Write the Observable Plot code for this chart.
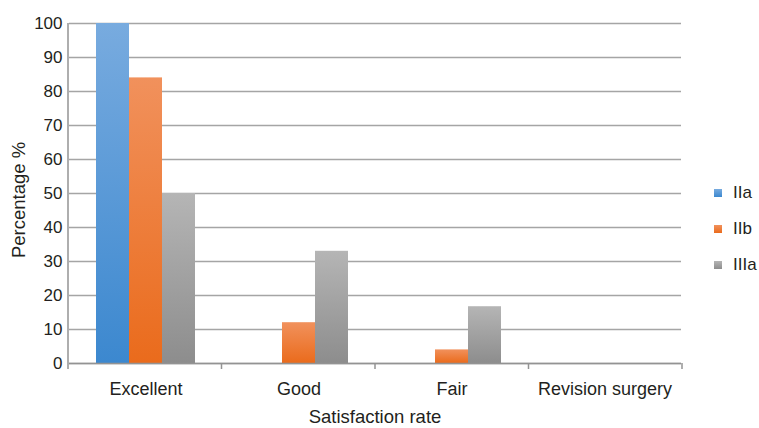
<!DOCTYPE html>
<html>
<head>
<meta charset="utf-8">
<script src="https://cdn.jsdelivr.net/npm/d3@7"></script>
<script src="https://cdn.jsdelivr.net/npm/@observablehq/plot@0.6"></script>
<style>
  body { margin: 0; background: #fff; font-family: "Liberation Sans", Arial, sans-serif; color: #231f20; }
  #wrap { position: relative; width: 759px; height: 428px; }
  #legend { position: absolute; left: 714px; top: 175px; }
  .row { display: flex; align-items: center; height: 36px; font-size: 17px; }
  .sw { width: 8px; height: 8px; margin-right: 11px; }
</style>
</head>
<body>
<div id="wrap"></div>
<script>
// Satisfaction rate by fracture type
const categories = ["Excellent", "Good", "Fair", "Revision surgery"];
const series = ["IIa", "IIb", "IIIa"];
const valuesIIa = [100, 0, 0, 0];
const valuesIIb = [84, 12, 4, 0];
const valuesIIIa = [50, 33, 16.7, 0];
const yTicks = [0, 10, 20, 30, 40, 50, 60, 70, 80, 90, 100];
const xTitle = "Satisfaction rate";
const yTitle = "Percentage %";

// top / bottom shades of each series' gradient
const seriesShades = {
  IIa: ["#78abdf", "#3c88cf"],
  IIb: ["#f1915c", "#ea6b1c"],
  IIIa: ["#b5b5b5", "#8d8d8d"]
};

const seriesValues = [valuesIIa, valuesIIb, valuesIIIa];
const rows = categories.flatMap((category, i) =>
  series.map((s, j) => ({category, series: s, value: seriesValues[j][i]}))
);

const ink = "#231f20";
const axisGray = "#939393";
const W = 759, H = 428;

const chart = Plot.plot({
  width: W,
  height: H,
  marginLeft: 68,
  marginRight: 77,
  marginTop: 23,
  marginBottom: 65,
  style: {fontFamily: '"Liberation Sans", Arial, sans-serif', color: ink, background: "white"},
  fx: {domain: categories, padding: 0, label: null},
  x: {domain: series, paddingInner: 0, paddingOuter: 0.78, axis: null},
  y: {domain: [0, 100]},
  color: {domain: series, range: series.map(s => `url(#grad-${s})`)},
  marks: [
    Plot.gridY(yTicks, {stroke: "#a5a5a5", strokeOpacity: 1, strokeWidth: 1.3}),
    Plot.barY(rows, {fx: "category", x: "series", y: "value", fill: "series"}),
    Plot.ruleY([0], {stroke: axisGray, strokeWidth: 1.5}),
    Plot.axisY(yTicks, {tickSize: 0, tickPadding: 7, fontSize: 17, fill: ink, label: null}),
    Plot.axisFx({anchor: "bottom", tickSize: 0, tickPadding: 19, fontSize: 18, fill: ink, label: null})
  ]
});

document.getElementById("wrap").append(chart);

const svg = d3.select(chart);

// vertical gradients for the bars
const defs = svg.insert("defs", ":first-child");
for (const s of series) {
  const g = defs.append("linearGradient")
    .attr("id", `grad-${s}`)
    .attr("x1", 0).attr("y1", 0).attr("x2", 0).attr("y2", 1);
  g.append("stop").attr("offset", "0%").attr("stop-color", seriesShades[s][0]);
  g.append("stop").attr("offset", "100%").attr("stop-color", seriesShades[s][1]);
}

// left axis line and category boundary ticks
const yDesc = chart.scale("y");
const fxDesc = chart.scale("fx");
const yScale = d3.scaleLinear(yDesc.domain, yDesc.range);
const fxScale = d3.scaleBand(fxDesc.domain, fxDesc.range).padding(0);
const edges = [...categories.map(c => fxScale(c)), fxScale(categories[categories.length - 1]) + fxScale.bandwidth()];
const deco = svg.append("g").attr("stroke", axisGray).attr("stroke-width", 1.5);
deco.append("line")
  .attr("x1", edges[0]).attr("x2", edges[0])
  .attr("y1", yScale(100)).attr("y2", yScale(0));
for (const e of edges) {
  deco.append("line")
    .attr("x1", e).attr("x2", e)
    .attr("y1", yScale(0)).attr("y2", yScale(0) + 6);
}

// axis titles
const titles = svg.append("g")
  .attr("fill", ink)
  .attr("font-size", 18.5)
  .attr("font-family", '"Liberation Sans", Arial, sans-serif')
  .attr("text-anchor", "middle");
titles.append("text")
  .attr("x", (edges[0] + edges[edges.length - 1]) / 2)
  .attr("y", H - 5)
  .text(xTitle);
titles.append("text")
  .attr("transform", `translate(25,${(yScale(0) + yScale(100)) / 2 + 7}) rotate(-90)`)
  .text(yTitle);

// legend
const legend = d3.select("#wrap").append("div").attr("id", "legend");
for (const s of series) {
  const row = legend.append("div").attr("class", "row");
  row.append("div").attr("class", "sw")
    .style("background", `linear-gradient(${seriesShades[s][0]}, ${seriesShades[s][1]})`);
  row.append("span").text(s);
}
</script>
</body>
</html>
